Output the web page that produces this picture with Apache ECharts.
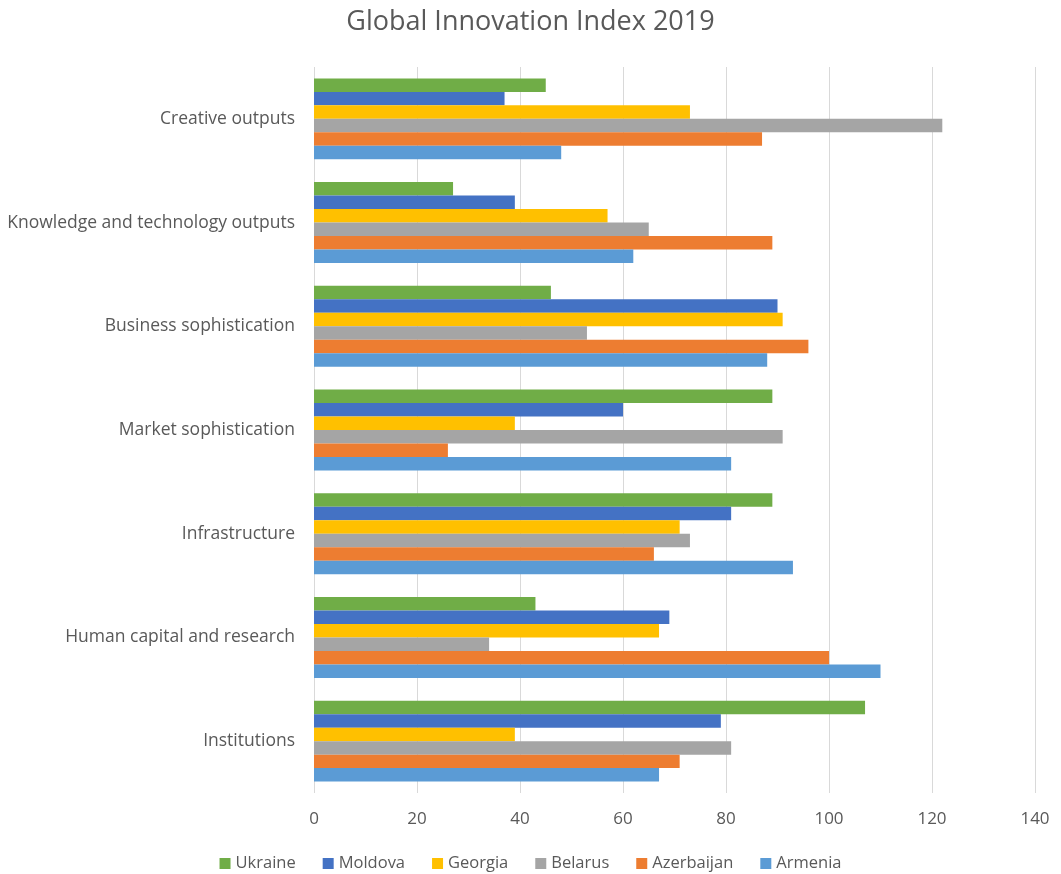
<!DOCTYPE html>
<html>
<head>
<meta charset="utf-8">
<script src="https://cdn.jsdelivr.net/npm/echarts@6/dist/echarts.min.js"></script>
<style>html,body{margin:0;padding:0;background:#fff;}#c{width:1061px;height:874px;}</style>
</head>
<body>
<div id="c"></div>
<script>
const categories = ["Institutions", "Human capital and research", "Infrastructure", "Market sophistication", "Business sophistication", "Knowledge and technology outputs", "Creative outputs"];
const armenia    = [67, 110, 93, 81, 88, 62, 48];
const azerbaijan = [71, 100, 66, 26, 96, 89, 87];
const belarus    = [81, 34, 73, 91, 53, 65, 122];
const georgia    = [39, 67, 71, 39, 91, 57, 73];
const moldova    = [79, 69, 81, 60, 90, 39, 37];
const ukraine    = [107, 43, 89, 89, 46, 27, 45];
const xTicks = [0, 20, 40, 60, 80, 100, 120, 140];

const font = '"Open Sans", "Liberation Sans", sans-serif';
const mk = (name, data, color) => ({
  name, type: 'bar', data, barGap: '0%', barCategoryGap: '22%',
  itemStyle: { color }
});
const chart = echarts.init(document.getElementById('c'));
chart.setOption({
  animation: false,
  title: { text: 'Global Innovation Index 2019', left: 'center', top: 4,
    textStyle: { fontFamily: font, fontSize: 27, fontWeight: 'normal', color: '#595959' } },
  legend: {
    data: ['Ukraine', 'Moldova', 'Georgia', 'Belarus', 'Azerbaijan', 'Armenia'],
    top: 850, left: 'center', icon: 'rect', itemWidth: 11, itemHeight: 11, itemGap: 27,
    textStyle: { fontFamily: font, fontSize: 16.5, color: '#595959' }
  },
  grid: { left: 314, right: 26, top: 67, bottom: 81, containLabel: false },
  xAxis: {
    type: 'value', min: xTicks[0], max: xTicks[xTicks.length - 1], interval: 20,
    axisLine: { show: false }, axisTick: { show: false },
    splitLine: { lineStyle: { color: '#d9d9d9', width: 1 } },
    axisLabel: { fontFamily: font, fontSize: 17, color: '#595959', margin: 18 }
  },
  yAxis: {
    type: 'category', data: categories,
    axisLine: { show: false }, axisTick: { show: false },
    axisLabel: { fontFamily: font, fontSize: 17.5, color: '#595959', margin: 19, padding: [3, 0, 0, 0] }
  },
  series: [
    mk('Ukraine', ukraine, '#70AD47'),
    mk('Moldova', moldova, '#4472C4'),
    mk('Georgia', georgia, '#FFC000'),
    mk('Belarus', belarus, '#A5A5A5'),
    mk('Azerbaijan', azerbaijan, '#ED7D31'),
    mk('Armenia', armenia, '#5B9BD5')
  ]
});
</script>
</body>
</html>
